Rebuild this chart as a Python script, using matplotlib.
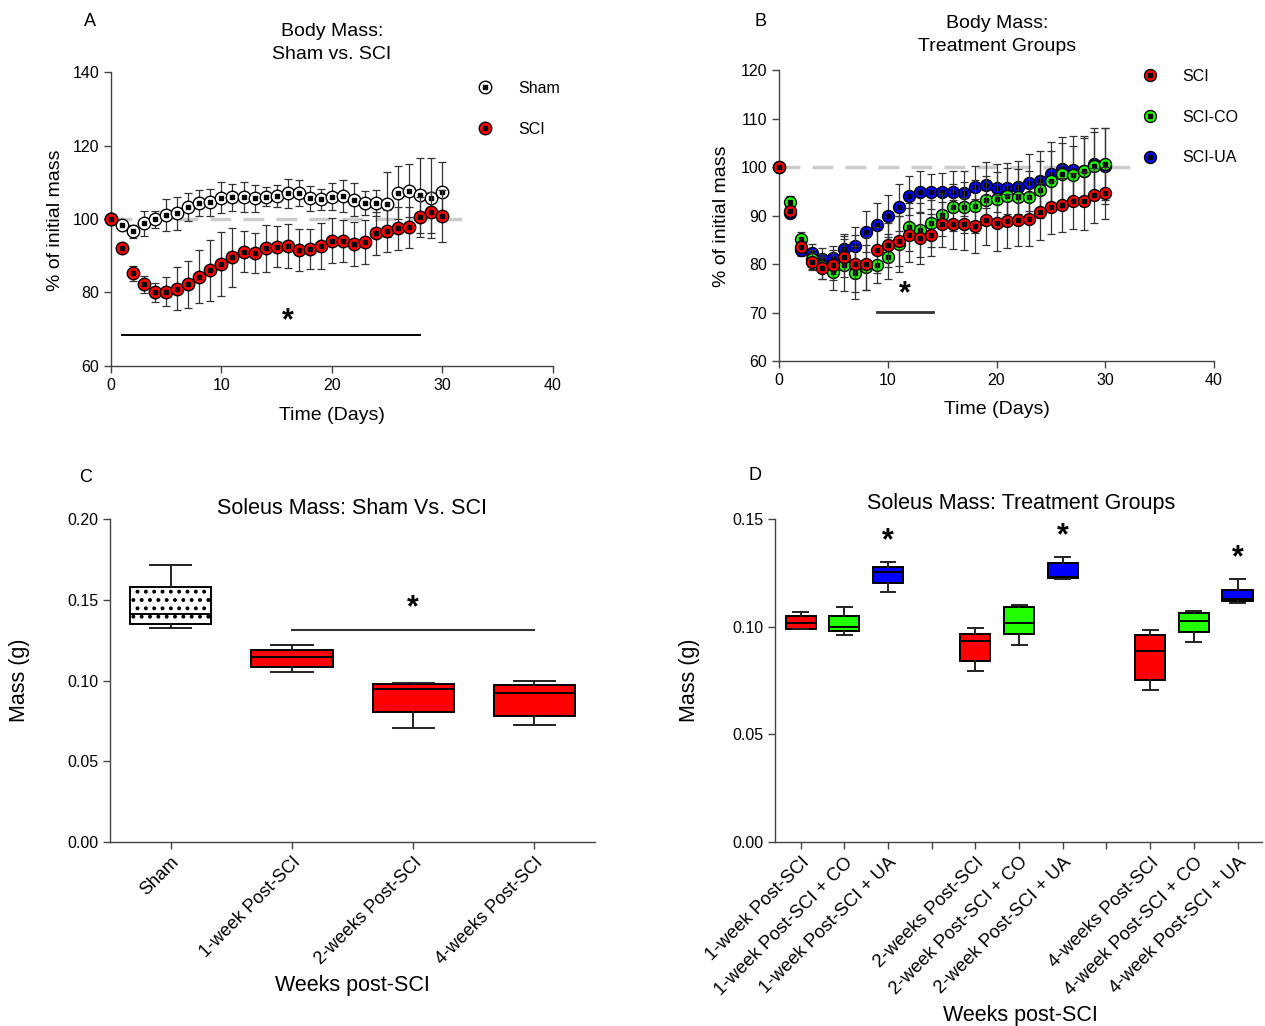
import numpy as np
import matplotlib
matplotlib.use('Agg')
import matplotlib.pyplot as plt
from matplotlib.ticker import FormatStrFormatter

plt.rcParams['font.family'] = ['Liberation Sans', 'DejaVu Sans']
plt.rcParams['hatch.linewidth'] = 1.6

# ---- datos panel A (masa corporal, Sham vs SCI) ----
days = list(range(31))
sham_mean = [100, 98.4, 96.6, 98.8, 99.9, 101.1, 101.5, 103.2, 104.3, 104.5, 105.8,
             105.9, 106.1, 105.6, 106.1, 106.3, 107.0, 107.0, 105.6, 105.4, 106.1,
             106.2, 105.3, 104.3, 104.3, 104.0, 107.2, 107.7, 106.5, 105.8, 107.4]
sham_err = [0, 1.0, 1.8, 3.5, 2.3, 4.4, 4.4, 3.8, 3.6, 3.8, 4.3, 3.6, 4.1, 3.6, 2.5,
            2.9, 3.9, 3.5, 3.4, 2.9, 3.6, 4.3, 4.4, 3.2, 3.5, 8.9, 7.2, 7.2, 10.2, 10.9, 8.0]
sci_mean = [100, 92.0, 85.2, 82.2, 80.0, 80.2, 81.0, 82.2, 84.3, 86.1, 87.8, 89.6,
            91.1, 90.7, 92.0, 92.5, 92.7, 91.6, 91.8, 92.7, 94.1, 94.1, 93.2, 93.7,
            96.1, 96.7, 97.5, 97.8, 100.5, 101.8, 100.8]
sci_err = [0, 0.5, 2.0, 2.4, 2.7, 4.0, 5.9, 6.5, 7.2, 8.3, 8.7, 8.0, 5.6, 5.5, 6.3,
           5.6, 5.9, 5.8, 5.5, 6.3, 6.2, 5.7, 6.0, 6.0, 5.9, 5.8, 5.9, 5.6, 5.4, 5.6, 7.1]

# ---- datos panel B (grupos de tratamiento) ----
b_sci = [100, 90.9, 83.6, 80.5, 79.2, 79.8, 81.5, 80.1, 80.1, 82.9, 83.9, 84.8, 86.0,
         85.3, 86.0, 88.2, 88.2, 88.2, 87.9, 89.1, 88.5, 88.9, 89.1, 89.3, 90.8, 91.7,
         92.2, 93.0, 93.0, 94.2, 94.7]
b_sci_err = [0, 0.8, 1.2, 1.8, 2.2, 3.0, 4.2, 5.8, 5.5, 4.8, 4.6, 5.2, 5.5, 5.2, 4.4,
             4.6, 5.0, 5.4, 5.6, 5.2, 5.8, 5.5, 5.3, 5.6, 5.9, 5.5, 5.6, 5.8, 6.0, 5.7, 5.4]
b_co = [100, 92.8, 85.2, 81.0, 79.5, 78.4, 79.8, 78.2, 79.3, 79.8, 81.5, 84.1, 87.6,
        87.0, 88.4, 90.2, 91.7, 91.7, 91.9, 93.2, 93.5, 94.1, 93.9, 93.9, 95.3, 97.2,
        98.6, 98.4, 99.2, 100.2, 100.6]
b_co_err = [0, 1.2, 1.5, 2.0, 2.5, 3.8, 5.3, 5.5, 4.7, 3.8, 4.6, 5.8, 5.0, 5.6, 4.8,
            4.5, 4.9, 5.2, 5.5, 5.0, 5.4, 5.8, 5.6, 5.2, 5.9, 6.1, 6.4, 6.0, 6.8, 7.0, 7.4]
b_ua = [100, 90.5, 82.9, 82.2, 81.0, 81.2, 83.1, 83.8, 86.7, 88.0, 89.9, 91.7, 94.1,
        94.9, 94.9, 94.9, 94.9, 94.6, 95.9, 96.3, 95.7, 95.6, 95.8, 96.8, 97.2, 98.6,
        99.5, 99.4, 99.2, 100.6, 100.2]
b_ua_err = [0, 0.8, 1.2, 2.0, 2.3, 2.6, 3.0, 3.8, 4.2, 4.6, 4.4, 4.8, 4.0, 4.2, 3.6,
            3.8, 4.2, 4.6, 4.4, 4.8, 5.0, 5.2, 5.5, 5.8, 6.2, 6.6, 6.8, 7.0, 7.3, 7.4, 7.8]

# ---- datos panel C (soleo, Sham vs SCI) ----
c_labels = ['Sham', '1-week Post-SCI', '2-weeks Post-SCI', '4-weeks Post-SCI']
c_whislo = [0.1323, 0.1053, 0.0706, 0.0724]
c_q1 = [0.1348, 0.1084, 0.0803, 0.0782]
c_med = [0.1412, 0.1143, 0.0947, 0.0921]
c_q3 = [0.1577, 0.1191, 0.0976, 0.0972]
c_whishi = [0.1715, 0.1222, 0.0985, 0.0995]

# ---- datos panel D (soleo, tratamientos) ----
d_labels = ['1-week Post-SCI', '1-week Post-SCI + CO', '1-week Post-SCI + UA',
            '2-weeks Post-SCI', '2-week Post-SCI + CO', '2-week Post-SCI + UA',
            '4-weeks Post-SCI', '4-week Post-SCI + CO', '4-week Post-SCI + UA']
d_whislo = [0.0991, 0.0963, 0.1161, 0.0793, 0.0915, 0.1220, 0.0706, 0.0929, 0.1109]
d_q1 = [0.0991, 0.0981, 0.1204, 0.0842, 0.0966, 0.1225, 0.0752, 0.0974, 0.1118]
d_med = [0.1016, 0.1000, 0.1253, 0.0935, 0.1019, 0.1229, 0.0889, 0.1028, 0.1130]
d_q3 = [0.1051, 0.1051, 0.1279, 0.0968, 0.1090, 0.1297, 0.0961, 0.1062, 0.1170]
d_whishi = [0.1067, 0.1093, 0.1302, 0.0994, 0.1099, 0.1324, 0.0985, 0.1071, 0.1222]

RED = '#ff0000'
GREEN = '#22ff00'
BLUE = '#0000ff'
AXC = '#444444'

fig = plt.figure(figsize=(12.65, 10.26), dpi=100)


def style_axes(ax):
    for s in ['top', 'right']:
        ax.spines[s].set_visible(False)
    for s in ['left', 'bottom']:
        ax.spines[s].set_color(AXC)
        ax.spines[s].set_linewidth(1.0)
    ax.tick_params(colors=AXC, labelcolor='black', labelsize=11.5, length=5, width=1)


def series(ax, x, y, err, color, z, ms=9):
    ax.errorbar(x, y, yerr=err, fmt='none', ecolor='#333333', elinewidth=0.9,
                capsize=2.8, capthick=0.9, zorder=z, clip_on=False)
    c, = ax.plot(x, y, 'o', ms=ms, mfc=color, mec='black', mew=1.0, zorder=z + 0.1,
                 clip_on=False)
    s, = ax.plot(x, y, 's', ms=2.6, color='black', zorder=z + 0.2, clip_on=False)
    return (c, s)


# ================= A =================
axA = fig.add_axes([0.0877, 0.6433, 0.3494, 0.2865])
style_axes(axA)
axA.plot([0, 32.2], [100, 100], color='#cccccc', lw=2.5, dashes=(6, 3.5), zorder=1)
hS = series(axA, days, sham_mean, sham_err, 'white', 3)
hR = series(axA, days, sci_mean, sci_err, RED, 5)
axA.plot([1, 28], [68.5, 68.5], color='black', lw=1.4)
axA.text(16, 72.3, '*', fontsize=22, fontweight='bold', ha='center', va='center')
axA.set_xlim(0, 40)
axA.set_ylim(60, 140)
axA.set_xticks([0, 10, 20, 30, 40])
axA.set_yticks([60, 80, 100, 120, 140])
axA.legend([hS, hR], ['Sham', 'SCI'], loc='upper left', frameon=False, fontsize=11.5,
           bbox_to_anchor=(469 / 1265, 1 - 73 / 1026), bbox_transform=fig.transFigure,
           borderpad=0, handlelength=1.0, handletextpad=1.6, labelspacing=1.6)

# ================= B =================
axB = fig.add_axes([0.6158, 0.6481, 0.3439, 0.2836])
style_axes(axB)
axB.plot([0, 33], [100, 100], color='#cccccc', lw=2.5, dashes=(6, 3.5), zorder=1)
hU = series(axB, days, b_ua, b_ua_err, BLUE, 3, ms=8.6)
hC = series(axB, days, b_co, b_co_err, GREEN, 4, ms=8.6)
hB = series(axB, days, b_sci, b_sci_err, RED, 5, ms=8.6)
axB.plot([9, 14.15], [70.2, 70.2], color='#333333', lw=2)
axB.text(11.6, 73.8, '*', fontsize=22, fontweight='bold', ha='center', va='center')
axB.set_xlim(0, 40)
axB.set_ylim(60, 120)
axB.set_xticks([0, 10, 20, 30, 40])
axB.set_yticks(np.arange(60, 121, 10))
axB.legend([hB, hC, hU], ['SCI', 'SCI-CO', 'SCI-UA'], loc='upper left', frameon=False,
           fontsize=11.5, bbox_to_anchor=(1134 / 1265, 1 - 61 / 1026),
           bbox_transform=fig.transFigure, borderpad=0, handlelength=1.0,
           handletextpad=1.5, labelspacing=1.6)


def make_stats(lo, q1, med, q3, hi):
    return [dict(whislo=a, q1=b, med=c, q3=d, whishi=e)
            for a, b, c, d, e in zip(lo, q1, med, q3, hi)]


# ================= C =================
axC = fig.add_axes([0.0870, 0.1793, 0.3834, 0.3148])
style_axes(axC)
bpC = axC.bxp(make_stats(c_whislo, c_q1, c_med, c_q3, c_whishi),
              positions=range(len(c_labels)), widths=0.67, capwidths=0.34,
              showfliers=False, patch_artist=True,
              boxprops=dict(linewidth=1.4, edgecolor='black'),
              medianprops=dict(color='black', linewidth=1.4),
              whiskerprops=dict(color='#222222', linewidth=1.4),
              capprops=dict(color='#222222', linewidth=1.4))
for i, b in enumerate(bpC['boxes']):
    if i == 0:
        b.set_facecolor('white')
        b.set_hatch('..')
    else:
        b.set_facecolor(RED)
axC.plot([1, 3], [0.1313, 0.1313], color='#333333', lw=1.5)
axC.text(2, 0.1445, '*', fontsize=22, fontweight='bold', ha='center', va='center')
axC.set_xlim(-0.5, 3.5)
axC.set_ylim(0, 0.20)
axC.set_yticks(np.arange(0, 0.201, 0.05))
axC.yaxis.set_major_formatter(FormatStrFormatter('%.2f'))
axC.set_xticks(range(len(c_labels)))
axC.set_xticklabels(c_labels, rotation=45, ha='right', rotation_mode='anchor',
                    fontsize=13)

# ================= D =================
axD = fig.add_axes([0.6126, 0.1793, 0.3850, 0.3148])
style_axes(axD)
d_pos = [g * 4 + k for g in range(3) for k in range(3)]
d_cols = [RED, GREEN, BLUE] * 3
bpD = axD.bxp(make_stats(d_whislo, d_q1, d_med, d_q3, d_whishi),
              positions=d_pos, widths=0.69, capwidths=0.34,
              showfliers=False, patch_artist=True,
              boxprops=dict(linewidth=1.4, edgecolor='black'),
              medianprops=dict(color='black', linewidth=1.4),
              whiskerprops=dict(color='#222222', linewidth=1.4),
              capprops=dict(color='#222222', linewidth=1.4))
for b, c in zip(bpD['boxes'], d_cols):
    b.set_facecolor(c)
for p, hi in zip(d_pos[2::3], d_whishi[2::3]):
    axD.text(p, hi + 0.0095, '*', fontsize=22, fontweight='bold', ha='center',
             va='center')
axD.set_xlim(-0.59, 10.56)
axD.set_ylim(0, 0.15)
axD.set_yticks([0, 0.05, 0.10, 0.15])
axD.yaxis.set_major_formatter(FormatStrFormatter('%.2f'))
# marcas en cada posicion, los huecos entre grupos sin texto
tick_lab = d_labels[:3] + [''] + d_labels[3:6] + [''] + d_labels[6:]
axD.set_xticks(range(11))
axD.set_xticklabels(tick_lab, rotation=45, ha='right', rotation_mode='anchor',
                    fontsize=13.3)

# ---- textos: letras, titulos, ejes ----
fig.text(90 / 1265, 1 - 22 / 1026, 'A', fontsize=13, ha='center', va='center')
fig.text(760 / 1265, 1 - 22 / 1026, 'B', fontsize=13, ha='center', va='center')
fig.text(86 / 1265, 1 - 478 / 1026, 'C', fontsize=13, ha='center', va='center')
fig.text(755 / 1265, 1 - 476 / 1026, 'D', fontsize=13, ha='center', va='center')

fig.text(332 / 1265, 1 - 43 / 1026, 'Body Mass:\nSham vs. SCI', fontsize=14,
         ha='center', va='center', linespacing=1.45)
fig.text(997 / 1265, 1 - 35 / 1026, 'Body Mass:\nTreatment Groups', fontsize=14,
         ha='center', va='center', linespacing=1.45)
fig.text(352 / 1265, 1 - 509 / 1026, 'Soleus Mass: Sham Vs. SCI', fontsize=15.5,
         ha='center', va='center')
fig.text(1021 / 1265, 1 - 504 / 1026, 'Soleus Mass: Treatment Groups', fontsize=15.5,
         ha='center', va='center')

fig.text(55 / 1265, 1 - 220 / 1026, '% of initial mass', fontsize=14, rotation=90,
         ha='center', va='center')
fig.text(722 / 1265, 1 - 216 / 1026, '% of initial mass', fontsize=14, rotation=90,
         ha='center', va='center')
fig.text(332 / 1265, 1 - 416 / 1026, 'Time (Days)', fontsize=14, ha='center', va='center')
fig.text(997 / 1265, 1 - 410 / 1026, 'Time (Days)', fontsize=14, ha='center', va='center')
fig.text(20 / 1265, 1 - 680 / 1026, 'Mass (g)', fontsize=15.5, rotation=90,
         ha='center', va='center')
fig.text(689 / 1265, 1 - 680 / 1026, 'Mass (g)', fontsize=15.5, rotation=90,
         ha='center', va='center')
fig.text(352 / 1265, 1 - 986 / 1026, 'Weeks post-SCI', fontsize=15.5, ha='center',
         va='center')
fig.text(1020 / 1265, 1 - 1016 / 1026, 'Weeks post-SCI', fontsize=15.5, ha='center',
         va='center')

fig.savefig('out.png', dpi=100)
